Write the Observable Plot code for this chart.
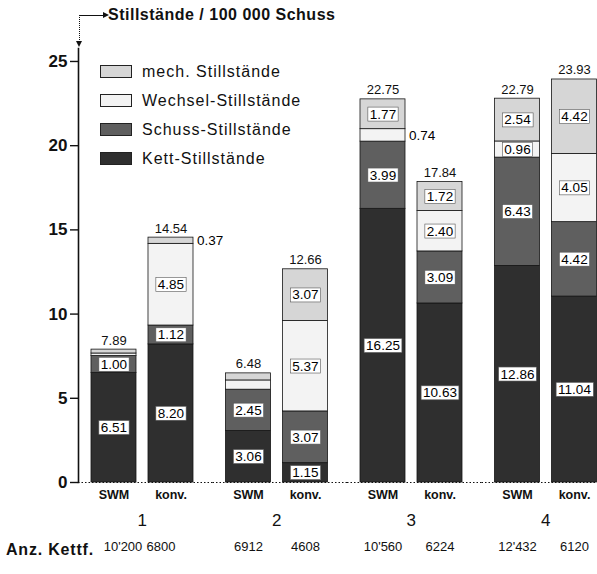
<!DOCTYPE html>
<html>
<head>
<meta charset="utf-8">
<script src="https://cdn.jsdelivr.net/npm/d3@7"></script>
<script src="https://cdn.jsdelivr.net/npm/@observablehq/plot@0.6"></script>
<style>
  html, body { margin: 0; padding: 0; background: #fff; }
  #wrap { position: relative; width: 597px; height: 574px; font-family: "Liberation Sans", Arial, Helvetica, sans-serif; color: #111; }
  #chart { position: absolute; left: 0; top: 0; }
  #title { position: absolute; left: 108px; top: 5px; font-size: 16px; font-weight: bold; letter-spacing: 0.5px; line-height: 20px; white-space: nowrap; }
  #bracket { position: absolute; left: 79px; top: 15px; width: 24px; height: 26px; border-left: 1px dotted #111; border-top: 1px solid #111; }
  #bracket .ar { position: absolute; right: -5px; top: -4px; width: 0; height: 0; border-left: 6px solid #111; border-top: 3.5px solid transparent; border-bottom: 3.5px solid transparent; }
  #bracket .ad { position: absolute; left: -4.5px; bottom: -5px; width: 0; height: 0; border-top: 6px solid #111; border-left: 3.5px solid transparent; border-right: 3.5px solid transparent; }
  #legend { position: absolute; left: 100px; top: 57px; }
  #legend .row { display: flex; align-items: center; height: 29px; }
  #legend .sw { width: 32px; height: 13px; border: 1px solid #222; margin-right: 10px; box-sizing: border-box; }
  #legend .tx { font-size: 16px; letter-spacing: 1px; white-space: nowrap; }
  #anz { position: absolute; left: 6px; top: 540px; font-size: 16px; font-weight: bold; letter-spacing: 0.8px; line-height: 20px; white-space: nowrap; }
</style>
</head>
<body>
<div id="wrap">
  <div id="chart"></div>
  <div id="bracket"><span class="ar"></span><span class="ad"></span></div>
  <div id="title">Stillstände / 100 000 Schuss</div>
  <div id="legend"></div>
  <div id="anz">Anz. Kettf.</div>
</div>
<script>
// ---- data ----
const groups = ["1", "2", "3", "4"];
const machines = ["SWM", "konv."];
const seriesKeys = ["Kett", "Schuss", "Wechsel", "mech"];
const seriesNames = ["Kett-Stillstände", "Schuss-Stillstände", "Wechsel-Stillstände", "mech. Stillstände"];
const seriesColors = ["#2f2f2f", "#5f5f5f", "#f3f3f3", "#d6d6d6"];

// bar order: 1 SWM, 1 konv., 2 SWM, 2 konv., 3 SWM, 3 konv., 4 SWM, 4 konv.
const kett    = [6.51, 8.20, 3.06, 1.15, 16.25, 10.63, 12.86, 11.04];
const schuss  = [1.00, 1.12, 2.45, 3.07, 3.99, 3.09, 6.43, 4.42];
const wechsel = [0.15, 4.85, 0.55, 5.37, 0.74, 2.40, 0.96, 4.05];
const mech    = [0.23, 0.37, 0.42, 3.07, 1.77, 1.72, 2.54, 4.42];
const totals  = [7.89, 14.54, 6.48, 12.66, 22.75, 17.84, 22.79, 23.93];
const kettf   = ["10'200", "6800", "6912", "4608", "10'560", "6224", "12'432", "6120"];

// where each value label is printed: "in" = inside box, "out" = beside bar, "" = none
const kettLabel    = ["in", "in", "in", "in", "in", "in", "in", "in"];
const schussLabel  = ["in", "in", "in", "in", "in", "in", "in", "in"];
const wechselLabel = ["", "in", "", "in", "out", "in", "in", "in"];
const mechLabel    = ["", "out", "", "in", "in", "in", "in", "in"];

const yTicks = [0, 5, 10, 15, 20, 25];

// ---- build tables ----
const values = [kett, schuss, wechsel, mech];
const modes = [kettLabel, schussLabel, wechselLabel, mechLabel];
const fmt = d3.format(".2f");
const rows = [];
const bars = [];
groups.forEach((g, i) => machines.forEach((m, j) => {
  const k = i * 2 + j;
  bars.push({group: g, machine: m, total: totals[k], kettf: kettf[k]});
  seriesKeys.forEach((s, si) => rows.push({group: g, machine: m, series: s, value: values[si][k], mode: modes[si][k]}));
}));

const FONT = '"Liberation Sans", Arial, Helvetica, sans-serif';

const chart = Plot.plot({
  width: 597,
  height: 574,
  marginTop: 48,
  marginBottom: 92,
  marginLeft: 78,
  marginRight: 0,
  style: {fontFamily: FONT, fontSize: "13px", color: "#111", background: "white", overflow: "visible"},
  fx: {domain: groups, paddingInner: 0.1413, paddingOuter: 0, round: false},
  x: {domain: machines, paddingInner: 0.2105, paddingOuter: 0.1184, align: 0.963, round: false},
  y: {domain: [0, 25.77]},
  color: {domain: seriesKeys, range: seriesColors},
  marks: [
    Plot.ruleY([0], {stroke: "#111", strokeDasharray: "1.5,2", insetRight: -20}),
    Plot.barY(rows, {fx: "group", x: "machine", y: "value", fill: "series", stroke: "#151515", strokeWidth: 0.8}),
    Plot.frame({anchor: "left", facetAnchor: "left", stroke: "#111", strokeWidth: 1.6}),
    Plot.axisY({ticks: yTicks, tickSize: 8, tickPadding: 3, fontSize: 17, fontWeight: "bold", label: null, strokeWidth: 1.4}),
    Plot.axisX({tickSize: 0, tickPadding: 8, fontSize: 12.5, fontWeight: "bold", label: null}),
    Plot.axisFx({anchor: "bottom", tickSize: 0, tickPadding: 31, fontSize: 17, label: null, dx: 6}),
    Plot.text(rows, Plot.stackY({fx: "group", x: "machine", y: "value", z: "series",
      text: d => d.mode === "in" ? fmt(d.value) : "",
      fill: "#000", fontSize: 13.5, className: "inlabel"})),
    Plot.text(rows, Plot.stackY({fx: "group", x: "machine", y: "value", z: "series",
      text: d => d.mode === "out" ? fmt(d.value) : "",
      fill: "#000", dx: 26, textAnchor: "start", fontSize: 13.5})),
    Plot.text(bars, {fx: "group", x: "machine", y: "total", text: d => fmt(d.total),
      lineAnchor: "bottom", dy: -5, fontSize: 13}),
    Plot.text(bars.filter(d => d.group !== "1"), {fx: "group", x: "machine", text: "kettf",
      frameAnchor: "bottom", dy: 68, fontSize: 13}),
    Plot.text(bars.filter(d => d.group === "1" && d.machine === "SWM"), {fx: "group", x: "machine", text: "kettf",
      frameAnchor: "bottom", dy: 68, dx: 9, fontSize: 13}),
    Plot.text(bars.filter(d => d.group === "1" && d.machine === "konv."), {fx: "group", x: "machine", text: "kettf",
      frameAnchor: "bottom", dy: 68, dx: -10, fontSize: 13})
  ]
});
document.getElementById("chart").appendChild(chart);

// white boxes behind the in-bar value labels, sized from each label's own text box
d3.select(chart).selectAll("g.inlabel text").each(function() {
  if (!this.textContent) return;
  const b = this.getBBox();
  d3.select(this.parentNode).insert("rect", () => this)
    .attr("x", b.x - 2).attr("y", b.y + 0.5)
    .attr("width", b.width + 4).attr("height", b.height - 1)
    .attr("transform", this.getAttribute("transform"))
    .attr("fill", "white").attr("stroke", "#555").attr("stroke-width", 0.6);
});

// legend (top to bottom: mech, Wechsel, Schuss, Kett)
const legend = document.getElementById("legend");
[3, 2, 1, 0].forEach(i => {
  const row = document.createElement("div");
  row.className = "row";
  const sw = document.createElement("span");
  sw.className = "sw";
  sw.style.background = seriesColors[i];
  const tx = document.createElement("span");
  tx.className = "tx";
  tx.textContent = seriesNames[i];
  row.appendChild(sw);
  row.appendChild(tx);
  legend.appendChild(row);
});
</script>
</body>
</html>
